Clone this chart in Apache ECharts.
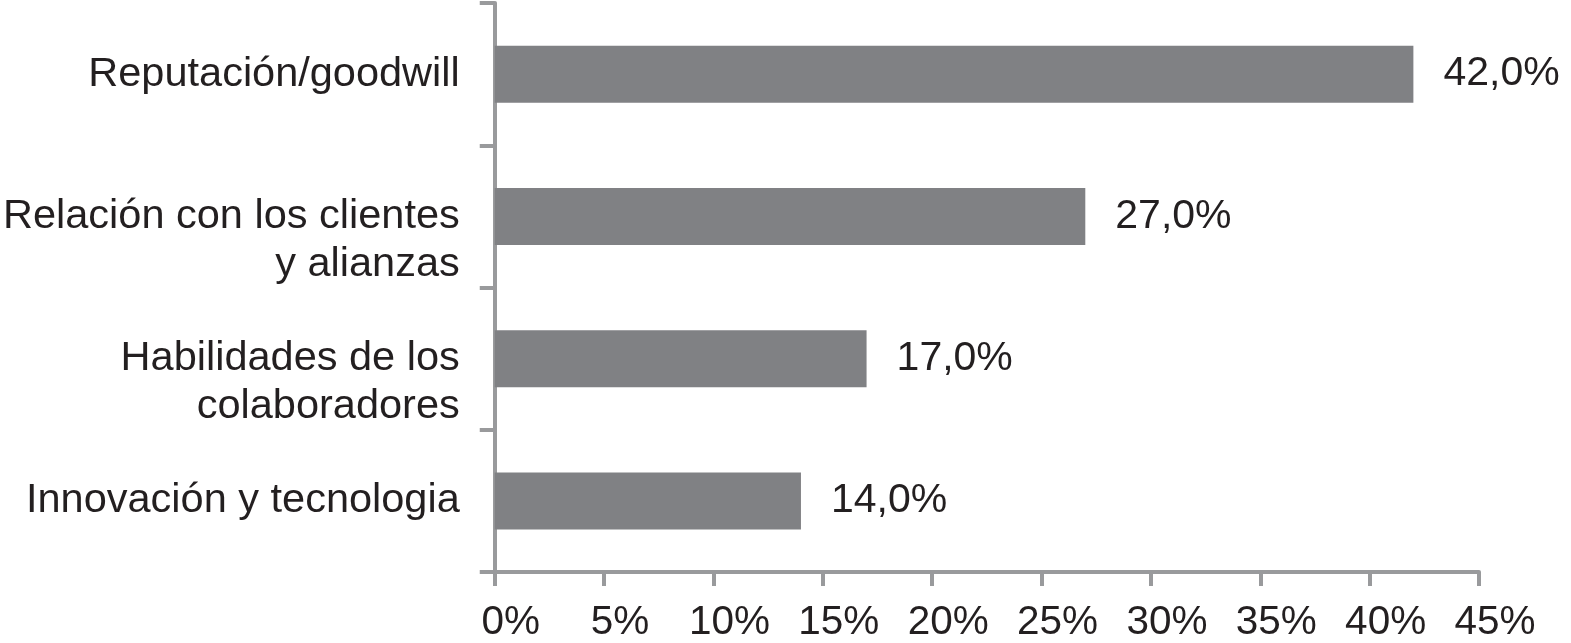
<!DOCTYPE html>
<html>
<head>
<meta charset="utf-8">
<script src="https://cdn.jsdelivr.net/npm/echarts@6/dist/echarts.min.js"></script>
<style>html,body{margin:0;padding:0;background:#fff;}#c{width:1571px;height:643px;}</style>
</head>
<body>
<div id="c"></div>
<script>
const categories = [
  "Reputación/goodwill",
  "Relación con los clientes\ny alianzas",
  "Habilidades de los\ncolaboradores",
  "Innovación y tecnologia"
];
const values = [42.0, 27.0, 17.0, 14.0];
const xTicks = [0, 5, 10, 15, 20, 25, 30, 35, 40, 45];

const axisColor = '#999a9c';
const textColor = '#231f20';
const fontFamily = '"Liberation Sans", Arial, Helvetica, sans-serif';

const chart = echarts.init(document.getElementById('c'));
chart.setOption({
  animation: false,
  backgroundColor: '#ffffff',
  grid: { left: 493, right: 92, top: 3, bottom: 69, containLabel: false },
  xAxis: {
    type: 'value',
    min: xTicks[0],
    max: xTicks[xTicks.length - 1],
    interval: xTicks[1] - xTicks[0],
    splitLine: { show: false },
    axisLine: { show: true, lineStyle: { color: axisColor, width: 4 } },
    axisTick: { show: true, length: 14, lineStyle: { color: axisColor, width: 4 } },
    axisLabel: {
      margin: 30,
      padding: [0, 0, 0, 32],
      color: textColor,
      fontSize: 40.5,
      fontFamily: fontFamily,
      formatter: v => v + '%'
    }
  },
  yAxis: {
    type: 'category',
    inverse: true,
    data: categories,
    axisLine: { show: true, lineStyle: { color: axisColor, width: 4 } },
    axisTick: { show: true, length: 15, alignWithLabel: false, lineStyle: { color: axisColor, width: 4 } },
    axisLabel: {
      margin: 35,
      color: textColor,
      fontSize: 41.5,
      lineHeight: 48,
      fontFamily: fontFamily,
      align: 'right',
      formatter: v => (v.indexOf('\n') >= 0 ? '\n' + v : v)
    }
  },
  series: [{
    type: 'bar',
    data: values,
    barWidth: 57,
    itemStyle: { color: '#808184' },
    label: {
      show: true,
      position: 'right',
      distance: 30,
      color: textColor,
      fontSize: 41,
      fontFamily: fontFamily,
      formatter: p => p.value.toFixed(1).replace('.', ',') + '%'
    }
  }]
});
</script>
</body>
</html>
